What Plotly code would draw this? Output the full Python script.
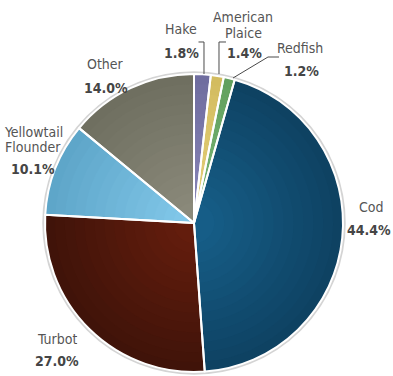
import plotly.graph_objects as go

# Catch share by species (percent), clockwise from 12 o'clock
species = ["Hake", "American Plaice", "Redfish", "Cod", "Turbot", "Yellowtail Flounder", "Other"]
shares = [1.8, 1.4, 1.2, 44.4, 27.0, 10.1, 14.0]
label_lines = [["Hake"], ["American", "Plaice"], ["Redfish"], ["Cod"], ["Turbot"],
               ["Yellowtail", "Flounder"], ["Other"]]

# Slice colours: rim shade and centre shade for the radial shading
edge_colors = ["#6f6d9f", "#d3bc5f", "#62a05e", "#0e4262", "#401309", "#5ea6c9", "#6f6f60"]
center_colors = ["#8784b6", "#e4cf7a", "#79b474", "#165d87", "#631d0d", "#80c6e8", "#8a897a"]

W, H = 393, 376
CX, CY, R = 194, 223, 149  # pie centre and radius in pixels

def px(x):
    return x / W

def py(y):
    return 1 - y / H

def mix(c1, c2, t):
    a = [int(c1[i:i + 2], 16) for i in (1, 3, 5)]
    b = [int(c2[i:i + 2], 16) for i in (1, 3, 5)]
    return "#" + "".join(f"{round(a[k] + (b[k] - a[k]) * t):02x}" for k in range(3))

fig = go.Figure()

# Concentric pies, lighter towards the middle
N = 14
for k in range(N):
    t = k / (N - 1)
    r = R * (1 - 0.93 * k / N)
    fig.add_trace(go.Pie(
        labels=species, values=shares, sort=False, direction="clockwise", rotation=0,
        textinfo="none", hoverinfo="label+percent", showlegend=False,
        marker=dict(colors=[mix(e, c, t) for e, c in zip(edge_colors, center_colors)],
                    line=dict(width=0)),
        domain=dict(x=[px(CX - r), px(CX + r)], y=[py(CY + r), py(CY - r)]),
    ))

# White slice borders on top
fig.add_trace(go.Pie(
    labels=species, values=shares, sort=False, direction="clockwise", rotation=0,
    textinfo="none", hoverinfo="skip", showlegend=False,
    marker=dict(colors=["rgba(0,0,0,0)"] * len(species), line=dict(color="white", width=2)),
    domain=dict(x=[px(CX - R), px(CX + R)], y=[py(CY + R), py(CY - R)]),
))

shapes = [
    # soft rim around the pie
    dict(type="circle", xref="paper", yref="paper", layer="below",
         x0=px(CX - R - 1.5), x1=px(CX + R + 1.5), y0=py(CY + R + 1.5), y1=py(CY - R - 1.5),
         line=dict(color="#d4d4d4", width=2.5)),
]

# Leader lines for the thin slices (pixel polylines)
leaders = [
    [(204, 74), (204, 42), (198.5, 42)],
    [(219, 74), (219, 42), (226, 42)],
    [(233, 78), (268, 57), (279, 57)],
]
for pts in leaders:
    path = "M " + " L ".join(f"{px(x):.5f},{py(y):.5f}" for x, y in pts)
    shapes.append(dict(type="path", xref="paper", yref="paper", path=path,
                       line=dict(color="#4a4a4a", width=1)))

# Label anchor points: centres of name lines and of the percentage line
name_pos = [[(181, 28)], [(243, 16), (243, 31.5)], [(300, 47)], [(371, 206)],
            [(57, 338)], [(33, 130.5), (33, 146)], [(105, 63)]]
pct_pos = [(181, 52), (244, 52), (301, 70), (369, 229), (57, 360), (33, 168), (106, 87)]

FONT = "DejaVu Sans Condensed, Liberation Sans Narrow, Arial Narrow, sans-serif"
annotations = []
for lines, npos, ppos, v in zip(label_lines, name_pos, pct_pos, shares):
    for text, (x, y) in zip(lines, npos):
        annotations.append(dict(x=px(x), y=py(y + 1), xref="paper", yref="paper",
                                text=text, showarrow=False, xanchor="center", yanchor="middle",
                                height=12, borderpad=0,
                                font=dict(family=FONT, size=14, color="#555555")))
    annotations.append(dict(x=px(ppos[0]), y=py(ppos[1] + 1), xref="paper", yref="paper",
                            text=f"<b>{v:.1f}%</b>", showarrow=False,
                            xanchor="center", yanchor="middle", height=14, borderpad=0,
                            font=dict(family=FONT, size=14, color="#454545")))

fig.update_layout(
    width=W, height=H, margin=dict(l=0, r=0, t=0, b=0),
    paper_bgcolor="white", plot_bgcolor="white",
    shapes=shapes, annotations=annotations,
)

fig.write_html("out.html")
